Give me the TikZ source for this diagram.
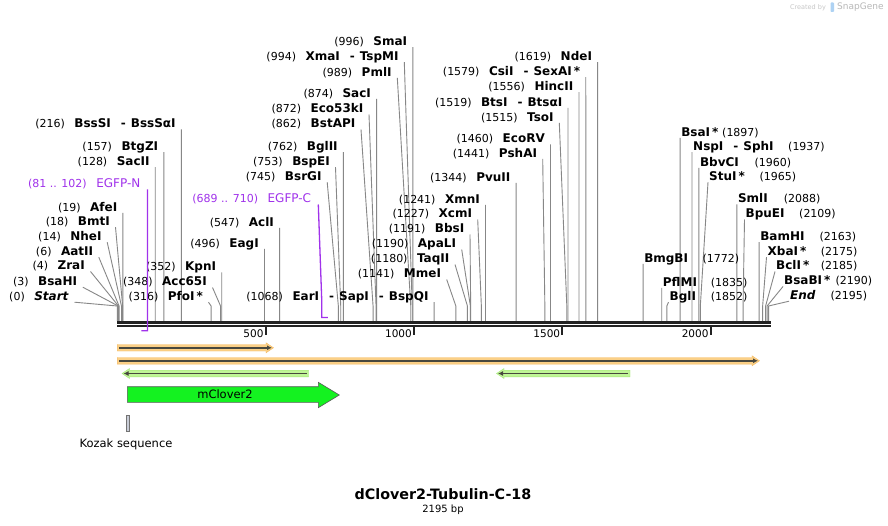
\documentclass[tikz,border=0pt]{standalone}
\usepackage{fontspec}
\setmainfont{DejaVu Sans}
\usetikzlibrary{arrows.meta}

\definecolor{sitegray}{RGB}{135,135,135}
\definecolor{primercol}{RGB}{160,50,235}
\definecolor{mapblack}{RGB}{34,34,34}
\definecolor{orangeband}{RGB}{251,208,135}
\definecolor{orangeedge}{RGB}{245,185,95}
\definecolor{greenband}{RGB}{192,245,150}
\definecolor{greenedge}{RGB}{160,232,115}
\definecolor{featline}{RGB}{72,72,62}
\definecolor{clover}{RGB}{20,242,32}
\definecolor{kozakgray}{RGB}{200,204,214}
\definecolor{snapblue}{RGB}{120,180,235}

\newcommand{\sepdash}{\hspace{10pt}-\hspace{5pt}}
\newcommand{\nmfont}{\fontsize{12}{14}\selectfont\bfseries}

\tikzset{
	lab/.style={font=\fontsize{11}{13}\selectfont, inner xsep=5.5pt, inner ysep=0pt, text height=9pt, text depth=1.5pt},
	rlab/.style={lab, inner xsep=1pt},
	num/.style={lab, inner xsep=0pt},
	primlab/.style={lab, text=primercol, inner xsep=7pt},
	leader/.style={draw=sitegray, line width=0.9pt},
	primline/.style={draw=primercol, line width=1.3pt},
	ticklab/.style={font=\fontsize{10.5}{12}\selectfont, inner sep=0pt},
	feat/.style={font=\fontsize{11.5}{13}\selectfont, inner sep=0pt},
	darkarrow/.style={featline, line width=1.6pt, -{Latex[length=5pt, width=5pt]}}
}

\begin{document}
\begin{tikzpicture}[x=1pt, y=-1pt]
	\useasboundingbox[fill=white] (0,0) rectangle (888,526);

	\foreach \bp/\xs/\ys/\name in {216/181.39/129.5/{BssSI\sepdash BssSαI}, 157/163.88/152.2/{BtgZI},
		128/155.28/167.2/{SacII}, 19/122.94/212.8/{AfeI}, 18/115.5/227.2/{BmtI}, 14/107.2/242.2/{NheI},
		6/98.8/257.2/{AatII}, 4/90.5/271.5/{ZraI}, 3/82.8/287.2/{BsaHI}, 0/74.5/302.2/{\textit{Start}},
		352/221.74/272.5/{KpnI}, 348/212.5/287.5/{Acc65I}, 316/208.5/302.2/{PfoI\,*},
		496/264.46/248.8/{EagI}, 547/279.59/227.8/{AclI}, 745/327.2/182.2/{BsrGI},
		753/335.5/167.2/{BspEI}, 762/343.39/152.2/{BglII}, 862/361/129.5/{BstAPI},
		872/369/114.5/{Eco53kI}, 874/376.62/98.8/{SacI}, 989/397.3/77.8/{PmlI},
		994/404.3/62.2/{XmaI\sepdash TspMI}, 996/412.81/47.2/{SmaI},
		1068/434.18/302.2/{EarI\sepdash SapI\sepdash BspQI}, 1141/446.7/279.5/{MmeI},
		1180/455/264.5/{TaqII}, 1190/461.7/249.5/{ApaLI}, 1191/470/234.5/{BbsI},
		1227/477.7/219.5/{XcmI}, 1241/485.5/204.8/{XmnI}, 1344/516.06/182.8/{PvuII},
		1441/542.7/158.8/{PshAI}, 1460/550.48/144.5/{EcoRV}, 1515/559.3/122.8/{TsoI},
		1519/567.99/107.8/{BtsI\sepdash BtsαI}, 1556/578.97/92.2/{HincII},
		1579/585.79/77.2/{CsiI\sepdash SexAI\,*}, 1619/597.66/62.2/{NdeI}}{
		\node[lab, anchor=south east] (L\bp) at (\xs,\ys) {(\bp)\hspace{9.5pt}{\nmfont\name}};
		\coordinate (S\bp) at ({117.3+\bp*0.2967},321);
		\draw[leader] (L\bp.south east) -- (S\bp |- 0,306) -- (S\bp);
	}

	\foreach \bp/\xs/\ys/\name/\xn in {1897/680.14/137.8/{BsaI\,*}/722, 1937/692.01/152.2/{NspI\sepdash SphI}/788,
		1960/698.83/167.8/{BbvCI}/754.3, 1965/708/182.2/{StuI\,*}/759.3, 2088/736.81/204.5/{SmlI}/783.7,
		2109/744.5/219.5/{BpuEI}/799, 2163/759.06/242.2/{BamHI}/819.3, 2175/766.5/257.2/{XbaI\,*}/820.7,
		2185/775/271.5/{BclI\,*}/820.7, 2190/783/286.5/{BsaBI\,*}/835.3, 2195/789/301.2/{\textit{End}}/830.3,
		1772/643.05/263.8/{BmgBI}/702.3, 1835/661.74/287.8/{PflMI}/710.7, 1852/668.5/302.2/{BglI}/710.7}{
		\node[rlab, anchor=south west] (R\bp) at (\xs,\ys) {\nmfont\name};
		\node[num, anchor=south west] (N\bp) at (\xn,\ys) {(\bp)};
		\coordinate (S\bp) at ({117.3+\bp*0.2967},321);
		\draw[leader] (R\bp.south west) -- (S\bp |- 0,306) -- (S\bp);
	}

	\draw[mapblack, line width=2.7pt] (117.3,322.3) -- (770.7,322.3);
	\draw[mapblack, line width=2.3pt] (117.3,325.8) -- (770.7,325.8);
	\foreach \t in {500,1000,1500,2000}{
		\coordinate (T\t) at ({117.3+\t*0.2967},326.8);
		\draw[mapblack, line width=1.8pt] (T\t) -- ++(0,8.5);
		\node[ticklab, anchor=east] (TL\t) at ({117.3+\t*0.2967-2},333.7) {\t};
	}

	\node[primlab, anchor=south east] (pN) at (147.56,189.5) {(81 .. 102)\hspace{9.5pt}{\fontsize{12}{14}\selectfont EGFP-N}};
	\coordinate (pN1) at ({117.3+81*0.2967},330.7);
	\coordinate (pN2) at ({117.3+102*0.2967},330.7);
	\draw[primline] (pN.south east) -- (pN2) -- (pN1);
	\node[primlab, anchor=south east] (pC) at (318.3,204.5) {(689 .. 710)\hspace{9.5pt}{\fontsize{12}{14}\selectfont EGFP-C}};
	\coordinate (pC1) at ({117.3+689*0.2967},317.5);
	\coordinate (pC2) at ({117.3+710*0.2967},317.5);
	\draw[primline] (pC.south east) -- (pC1 |- 0,300) -- (pC1) -- (pC2);

	\filldraw[fill=orangeband, draw=orangeedge, line width=0.4pt] (117.3,344.5) -- (266,344.5) -- (266,342.8) -- (273.5,347.8) -- (266,352.8) -- (266,351) -- (117.3,351) -- cycle;
	\draw[darkarrow] (119,347.8) -- (272,347.8);
	\filldraw[fill=orangeband, draw=orangeedge, line width=0.4pt] (117.3,357.5) -- (752,357.5) -- (752,355.8) -- (759.5,360.8) -- (752,365.8) -- (752,364.1) -- (117.3,364.1) -- cycle;
	\draw[darkarrow] (119,360.8) -- (758,360.8);
	\filldraw[fill=greenband, draw=greenedge, line width=0.4pt] (308.5,370.2) -- (129.5,370.2) -- (129.5,368.5) -- (122,373.5) -- (129.5,378.5) -- (129.5,376.8) -- (308.5,376.8) -- cycle;
	\draw[darkarrow] (306.5,373.5) -- (123.5,373.5);
	\filldraw[fill=greenband, draw=greenedge, line width=0.4pt] (630,370.2) -- (504,370.2) -- (504,368.5) -- (496.5,373.5) -- (504,378.5) -- (504,376.8) -- (630,376.8) -- cycle;
	\draw[darkarrow] (628,373.5) -- (498,373.5);

	\filldraw[fill=clover, draw=black!65, line width=0.6pt] (127.3,386.7) -- (318.3,386.7) -- (318.3,382.3) -- (339.3,395) -- (318.3,407.7) -- (318.3,402.3) -- (127.3,402.3) -- cycle;
	\node[feat] (clover) at (225,394.5) {mClover2};

	\filldraw[fill=kozakgray, draw=black!55, line width=0.5pt] (126.7,415.5) rectangle (129.7,431);
	\node[feat] (kozak) at (126,444.5) {Kozak sequence};

	\node[font=\fontsize{14.3}{16}\selectfont\bfseries] (title) at (443,494.5) {dClover2-Tubulin-C-18};
	\node[font=\fontsize{10}{12}\selectfont] (len) at (443,510) {2195 bp};

	\node[font=\fontsize{6.5}{8}\selectfont, text=black!22, inner sep=0pt] (made) at (808,7.5) {Created by};
	\fill[snapblue!60, rounded corners=0.8pt] (830.5,2.5) rectangle (834,12);
	\node[font=\fontsize{9}{10}\selectfont, text=black!28, inner sep=0pt, anchor=west] (brand) at (837,7.5) {SnapGene};
\end{tikzpicture}
\end{document}
